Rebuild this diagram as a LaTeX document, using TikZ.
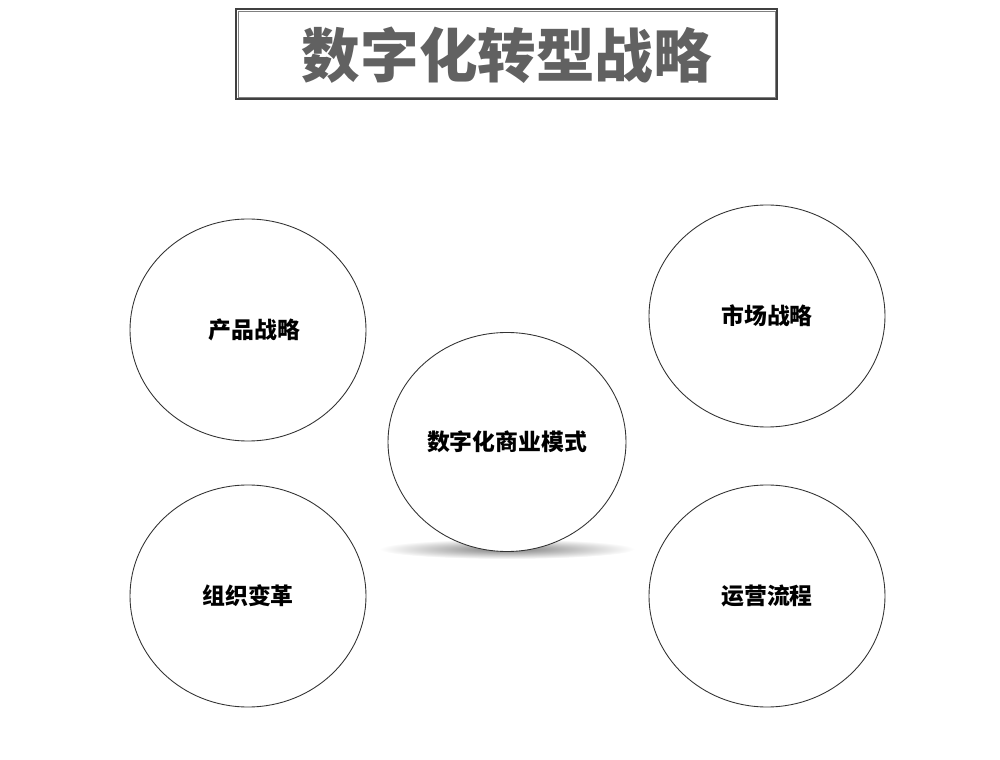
\documentclass[tikz,border=0pt]{standalone}
\usepackage{fontspec}
\newfontfamily\cjk{Noto Sans CJK SC}
\usetikzlibrary{shapes.geometric}
\usetikzlibrary{positioning}

\begin{document}
\begin{tikzpicture}[x=0.3mm, y=-0.3mm, black!80, line width = 0.75pt,
    bubble/.style = {ellipse, draw, fill = white, inner sep = 0pt,
        minimum width = 70.8mm, minimum height = 66.6mm,
        text = black, font = \cjk\bfseries\fontsize{19.5}{21}\selectfont}]

    \useasboundingbox (0,0) rectangle (1000,760);

    % title box
    \draw[black!75, line width = 1.2pt] (236,9) rectangle (777,99);
    \draw[black!50, line width = 0.5pt] (238,11) rectangle (775,97);
    \node (T) at (507,55) [text = black!62, font = \cjk\bfseries\fontsize{50}{52}\selectfont] {数字化转型战略};

    % shadow under the centre
    \shade[inner color = black!50, outer color = white] (507,549) ellipse [x radius = 128, y radius = 10];

    \node (M) at (507,442) [bubble, minimum width = 71.4mm, minimum height = 65.7mm] {数字化商业模式};

    \node (S1) at (248,330) [bubble] {\hspace{4mm}产品战略};
    \node (S2) at (767,316) [bubble] {市场战略};
    \node (S3) at (248,596) [bubble] {组织变革};
    \node (S4) at (767,596) [bubble] {运营流程};

\end{tikzpicture}
\end{document}
